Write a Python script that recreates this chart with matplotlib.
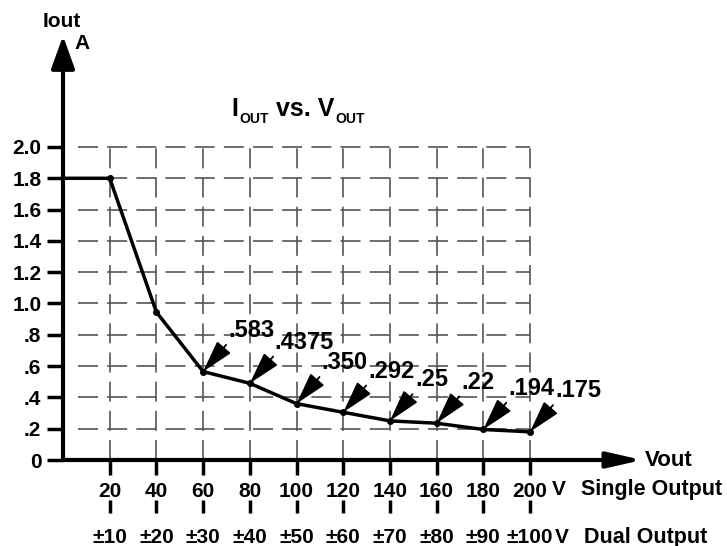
import numpy as np
import matplotlib
matplotlib.use("Agg")
import matplotlib.pyplot as plt
from matplotlib.transforms import offset_copy

plt.rcParams["font.family"] = ["Liberation Sans", "DejaVu Sans"]
plt.rcParams["font.weight"] = "bold"

# data
v_single = [20, 40, 60, 80, 100, 120, 140, 160, 180, 200]
v_dual = ["±10", "±20", "±30", "±40", "±50", "±60", "±70", "±80", "±90", "±100"]
i_out = [1.8, 0.945, 0.565, 0.49, 0.36, 0.305, 0.25, 0.235, 0.195, 0.18]
point_labels = [".583", ".4375", ".350", ".292", ".25", ".22", ".194", ".175"]
y_ticks = [0, 0.2, 0.4, 0.6, 0.8, 1.0, 1.2, 1.4, 1.6, 1.8, 2.0]
y_ticklabels = ["0", ".2", ".4", ".6", ".8", "1.0", "1.2", "1.4", "1.6", "1.8", "2.0"]

fig = plt.figure(figsize=(7.27, 5.46), dpi=100)
ax = fig.add_axes([63 / 727, 86 / 546, 583.75 / 727, 430.4 / 546])
ax.set_xlim(0, 250)
ax.set_ylim(0, 2.75)
for s in ax.spines.values():
    s.set_visible(False)

fs = 15

# grid
dash = (0, (12, 5.5))
ax.hlines(y_ticks[1:], 6.5, 200, colors="#555555", linewidth=1.2, linestyles=[dash])
ax.vlines(v_single, 0, 2.0, colors="#555555", linewidth=1.2, linestyles=[dash])

# axes with arrows
ax.annotate("", xy=(0, 2.71), xytext=(0, 0), xycoords="data",
            arrowprops=dict(arrowstyle="-|>,head_length=1.0,head_width=0.36",
                            lw=3, color="black", shrinkA=0, shrinkB=0,
                            mutation_scale=20), annotation_clip=False)
ax.annotate("", xy=(248, 0), xytext=(0, 0), xycoords="data",
            arrowprops=dict(arrowstyle="-|>,head_length=1.05,head_width=0.24",
                            lw=3, color="black", shrinkA=0, shrinkB=0,
                            mutation_scale=20), annotation_clip=False)

# ticks
ax.set_yticks(y_ticks)
ax.set_yticklabels(y_ticklabels, fontsize=fs, fontweight="bold")
ax.set_xticks(v_single)
ax.set_xticklabels([str(v) for v in v_single], fontsize=fs, fontweight="bold")
ax.tick_params(axis="y", direction="out", length=11.5, width=2.5, pad=4)
ax.tick_params(axis="x", direction="out", length=10.8, width=2.5, pad=5)

# second row of x labels
ax.vlines(v_single, -0.256, -0.339, colors="black", linewidth=2.5, clip_on=False)
for x, lab in zip(v_single, v_dual):
    ax.text(x, -0.492, lab, ha="center", va="center", fontsize=fs, fontweight="bold")

ax.text(209.4, -0.19, "V", ha="left", va="center", fontsize=fs, fontweight="bold")
ax.text(210.6, -0.492, "V", ha="left", va="center", fontsize=fs, fontweight="bold")
ax.text(222.0, -0.19, "Single Output", ha="left", va="center", fontsize=15.5, fontweight="bold")
ax.text(223.0, -0.492, "Dual Output", ha="left", va="center", fontsize=15.5, fontweight="bold")
ax.text(249.3, 0, "Vout", ha="left", va="center", fontsize=16, fontweight="bold")
ax.text(-0.6, 2.80, "Iout", ha="center", va="center", fontsize=fs, fontweight="bold")
ax.text(8.3, 2.66, "A", ha="center", va="center", fontsize=fs, fontweight="bold")

# title built from pieces of different sizes
renderer = fig.canvas.get_renderer()
pieces = [("I", 18, 0), ("OUT", 10, -7), (" vs. V", 18, 0), ("OUT", 10, -7)]
x0 = 0.0
for txt, size, dy in pieces:
    t = ax.text(72, 2.198, txt, ha="left", va="baseline", fontsize=size, fontweight="bold",
                transform=offset_copy(ax.transData, fig=fig, x=x0, y=dy, units="dots"))
    x0 += t.get_window_extent(renderer).width + 1

# data line
ax.plot([0] + v_single, [i_out[0]] + i_out, color="black", lw=2.5,
        marker="o", markersize=4, markevery=list(range(1, len(v_single) + 1)),
        clip_on=False)

# value annotations
for x, y, lab in zip(v_single[2:], i_out[2:], point_labels):
    ax.annotate(lab, xy=(x, y), xytext=(25, 41), textcoords="offset pixels",
                ha="left", va="center", fontsize=17, fontweight="bold",
                arrowprops=dict(arrowstyle="-|>,head_length=1.0,head_width=0.28",
                                color="black", lw=1.3, shrinkA=0, shrinkB=0,
                                relpos=(0.03, 0.05), mutation_scale=20))

fig.savefig("out.png", dpi=100)
